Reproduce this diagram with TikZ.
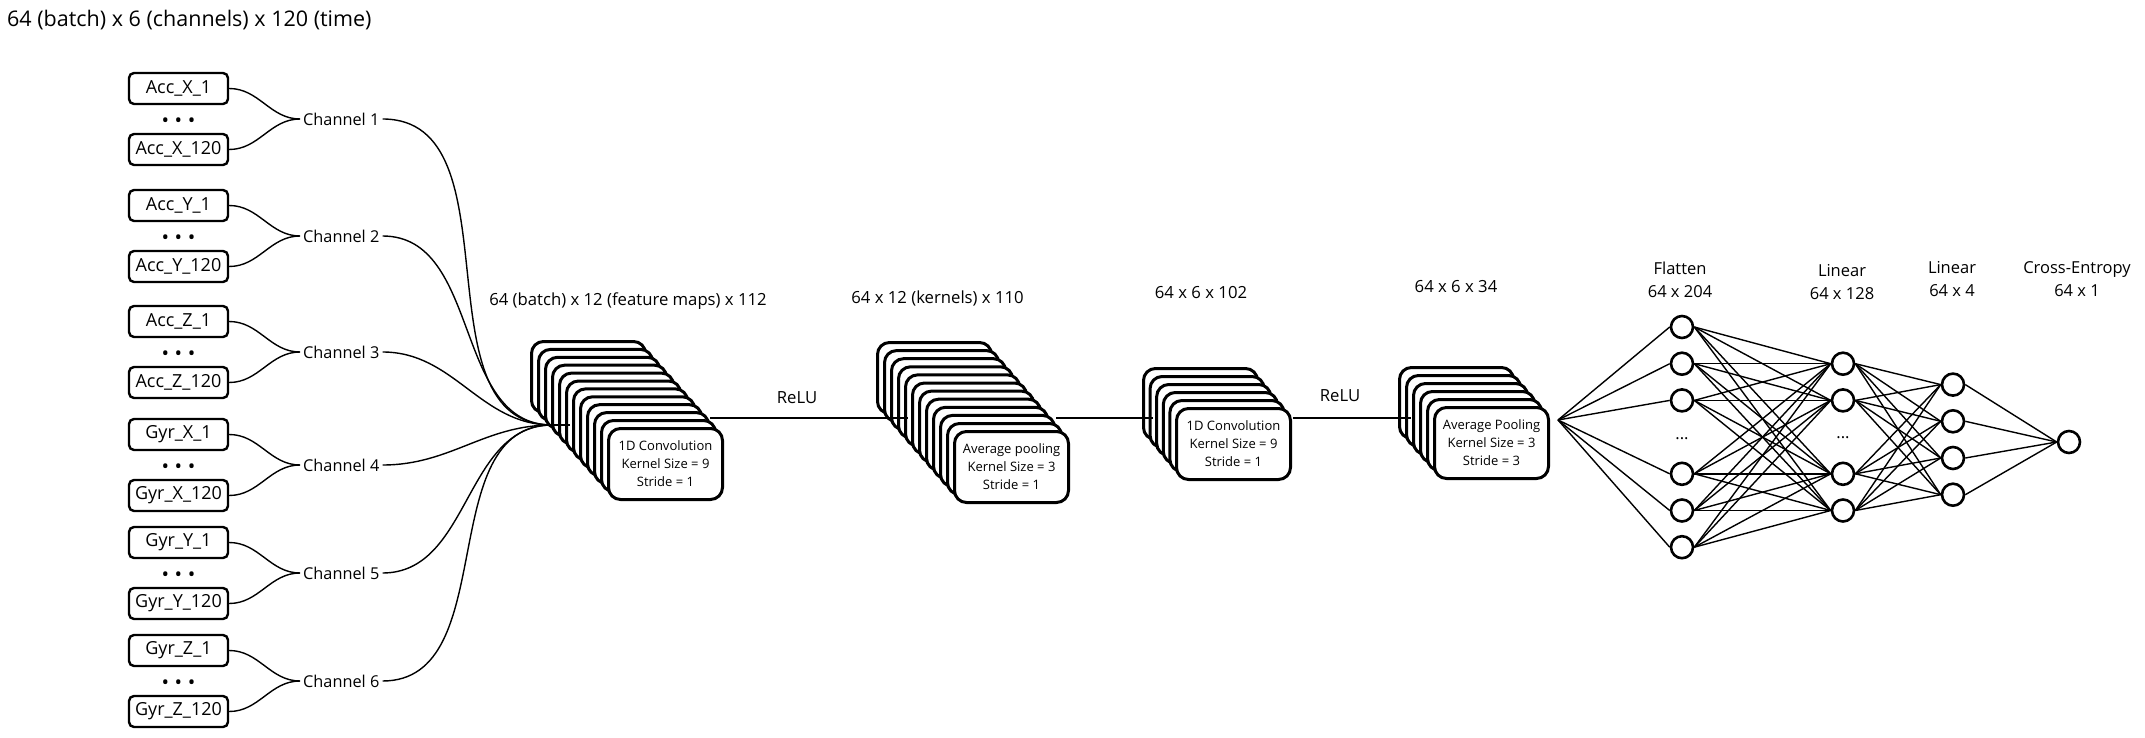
\documentclass[tikz,border=0pt]{standalone}
\usepackage{fontspec}
\setmainfont{Open Sans}
\usepackage{tikz}
\usetikzlibrary{arrows}

\begin{document}
\begin{tikzpicture}[x=1pt,y=-1pt,node distance=61pt,auto]
  \tikzstyle{sensor}=[rectangle,rounded corners=5pt,draw=black,line width=2.4pt,fill=white,
              minimum width=99pt,minimum height=31pt,inner sep=0pt,font=\fontsize{18}{20}\selectfont]
  \tikzstyle{chan}=[inner sep=3pt,font=\fontsize{16.3}{18}\selectfont]
  \tikzstyle{wire}=[line width=1.4pt]
  \tikzstyle{layer}=[rectangle,rounded corners=12pt,draw=black,line width=3pt,fill=white,
              minimum width=114pt,minimum height=71pt,inner sep=0pt,align=center,
              font=\fontsize{13}{18}\selectfont]
  \tikzstyle{neuron}=[circle,draw=black,line width=2.6pt,fill=white,minimum size=22pt,inner sep=0pt]
  \tikzstyle{dims}=[inner sep=0pt,font=\fontsize{16.7}{20}\selectfont]
  \tikzstyle{head}=[inner sep=0pt,align=center,font=\fontsize{16.5}{23}\selectfont]
  \useasboundingbox (0,0) rectangle (2145,738);

    \node [anchor=west,inner sep=0pt,font=\fontsize{21.5}{24}\selectfont] (title) at (7,20)
          {64 (batch) x 6 (channels) x 120 (time)};

    % sensor inputs, grouped per channel
    \foreach \n/\t/\c/\y in {ax/Acc\_X/1/119, ay/Acc\_Y/2/236, az/Acc\_Z/3/352,
                             gx/Gyr\_X/4/465, gy/Gyr\_Y/5/573, gz/Gyr\_Z/6/681} {
      \node [sensor] (\n1) at (178.5,\y-30.5) {\t\_1};
      \node [sensor] (\n120) [below of=\n1] {\t\_120};
      \node [inner sep=0pt,font=\fontsize{20}{20}\selectfont] (\n d) at (178.5,\y+4)
            {\textbullet\hspace{5.5pt}\textbullet\hspace{5.5pt}\textbullet};
      \node [chan,anchor=west] (ch\c) at (300,\y) {Channel \c}
            edge [wire,out=180,in=0] (\n1)
            edge [wire,out=180,in=0] (\n120);
    }

    % 1D convolution, 12 feature maps
    \foreach \k in {0,...,10}
      \node [layer] (ca\k) at ({588.5+7*\k},{377+7.9*\k}) {};
    \node [layer] (ca11) at (665.5,464) {1D Convolution\\Kernel Size = 9\\Stride = 1};

    % average pooling, 12 kernels
    \foreach \k in {0,...,10}
      \node [layer] (pa\k) at ({934.5+7*\k},{378+8.1*\k}) {};
    \node [layer] (pa11) at (1011.5,467) {Average pooling\\Kernel Size = 3\\Stride = 1};

    % 1D convolution, 6 maps
    \foreach \k in {0,...,4}
      \node [layer] (cb\k) at ({1200.5+6.6*\k},{404+8*\k}) {};
    \node [layer] (cb5) at (1233.5,444) {1D Convolution\\Kernel Size = 9\\Stride = 1};

    % average pooling, 6 maps
    \foreach \k in {0,...,4}
      \node [layer] (pb\k) at ({1456.5+7*\k},{403+8*\k}) {};
    \node [layer] (pb5) at (1491.5,443) {Average Pooling\\Kernel Size = 3\\Stride = 3};

    % channels into the first convolution
    \coordinate (m1) at (552,425);
    \coordinate (m1b) at (570,425);
    \foreach \c in {1,...,6}
      \draw [wire] (ch\c) to [out=0,in=180] (m1);
    \draw [line width=2.6pt] (m1) -- (m1b);

    \coordinate (caout) at (710,418);
    \coordinate (pain) at (908,418);
    \coordinate (paout) at (1056,418);
    \coordinate (cbin) at (1153,418);
    \coordinate (cbout) at (1293,418);
    \coordinate (pbin) at (1411,418);
    \draw [wire] (caout) -- (pain);
    \draw [wire] (paout) -- (cbin);
    \draw [wire] (cbout) -- (pbin);

    \node [dims] (relu1) at (797,398) {ReLU};
    \node [dims] (relu2) at (1340,396) {ReLU};

    \node [dims] (dimca) at (628,301) {64 (batch) x 12 (feature maps) x 112};
    \node [dims] (dimpa) at (937.5,298) {64 x 12 (kernels) x 110};
    \node [dims] (dimcb) at (1201,293) {64 x 6 x 102};
    \node [dims] (dimpb) at (1456,287) {64 x 6 x 34};

    % fully connected part
    \coordinate (fan) at (1558,420);
    \foreach \i/\y in {1/327,2/363.7,3/400.4,4/473.8,5/510.5,6/547.2}
      \node [neuron] (f\i) at (1682,\y) {};
    \foreach \i/\y in {1/363.7,2/400.4,3/473.8,4/510.5}
      \node [neuron] (h\i) at (1843,\y) {};
    \foreach \i/\y in {1/384.6,2/421.3,3/458,4/494.7}
      \node [neuron] (o\i) at (1953,\y) {};
    \node [neuron] (ce) at (2069,442) {};
    \node [head,anchor=base] (fdots) at (1682,439) {...};
    \node [head,anchor=base] (hdots) at (1843,438) {...};

    \foreach \i in {1,...,6}
      \draw [wire] (fan) -- (f\i.west);
    \foreach \i in {1,...,6}
      \foreach \j in {1,...,4}
        \draw [wire] (f\i.east) -- (h\j.west);
    \foreach \i in {1,...,4}
      \foreach \j in {1,...,4}
        \draw [wire] (h\i.east) -- (o\j.west);
    \foreach \i in {1,...,4}
      \draw [wire] (o\i.east) -- (ce.west);

    \node [head] (hflat) at (1680,280) {Flatten\\64 x 204};
    \node [head] (hlin1) at (1842,282.5) {Linear\\64 x 128};
    \node [head] (hlin2) at (1952,279) {Linear\\64 x 4};
    \node [head] (hloss) at (2077,279) {Cross-Entropy\\64 x 1};
\end{tikzpicture}
\end{document}
